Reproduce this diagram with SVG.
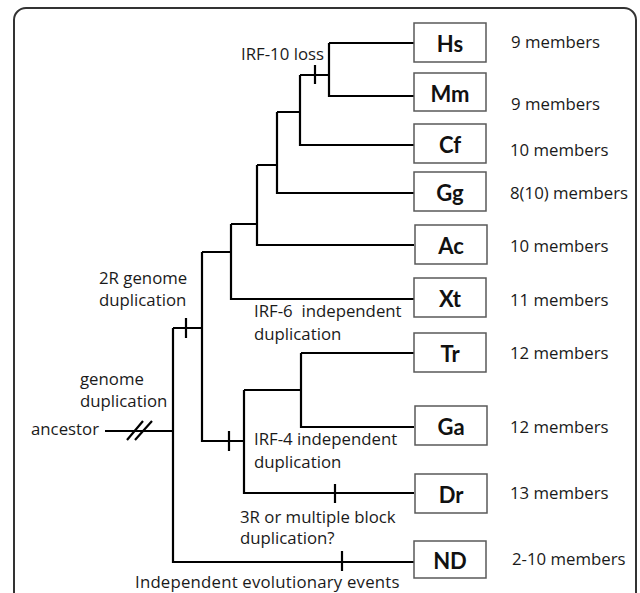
<svg xmlns="http://www.w3.org/2000/svg" width="640" height="593" viewBox="0 0 640 593">
<style>
.box{fill:#fff;stroke:#595959;stroke-width:1.5}
.bl{font-family:Lato,"Open Sans",sans-serif;font-weight:bold;font-size:22px;fill:#111;text-anchor:middle;dominant-baseline:central}
.t{font-family:"Open Sans",Lato,sans-serif;font-size:16.8px;fill:#1a1a1a;dominant-baseline:central}
.e{stroke:#000;stroke-width:2.2;fill:none}
</style>
<rect x="14" y="8" width="622" height="620" rx="12" fill="#fff" stroke="#333" stroke-width="2"/>
<g id="connectors">
<path class="e" d="M329,43 H414 M329,43 V96 H414 M300,75 H329 M315,65 V84 M300,75 V145 H414 M277,112 H300 M277,112 V193 H414 M257,165 H277 M257,165 V245 H414 M231,224 H257 M231,224 V299 H414 M202,252 H231 M202,252 V441 H244 M229,431 V451 M244,390 V493 H414 M335,484 V503 M244,390 H301 M301,353 H414 M301,353 V427 H414 M173,328 H202 M186,318 V338 M173,328 V562 H414 M342,551 V571 M105,431 H173 M127,440 L143,421 M135,440 L152,421"/>
</g>
<g id="Hs"><rect class="box" x="414" y="23" width="72" height="39"/><text class="bl" x="450" y="43">Hs</text></g>
<g id="Mm"><rect class="box" x="414" y="73" width="72" height="38"/><text class="bl" x="450" y="93">Mm</text></g>
<g id="Cf"><rect class="box" x="414" y="124" width="72" height="39"/><text class="bl" x="450" y="144">Cf</text></g>
<g id="Gg"><rect class="box" x="414" y="172" width="72" height="39"/><text class="bl" x="450" y="192">Gg</text></g>
<g id="Ac"><rect class="box" x="415" y="225" width="72" height="39"/><text class="bl" x="451" y="245">Ac</text></g>
<g id="Xt"><rect class="box" x="414" y="278" width="72" height="39"/><text class="bl" x="450" y="298">Xt</text></g>
<g id="Tr"><rect class="box" x="414" y="333" width="72" height="39"/><text class="bl" x="450" y="353">Tr</text></g>
<g id="Ga"><rect class="box" x="415" y="406" width="72" height="39"/><text class="bl" x="451" y="426">Ga</text></g>
<g id="Dr"><rect class="box" x="415" y="474" width="72" height="39"/><text class="bl" x="451" y="494">Dr</text></g>
<g id="ND"><rect class="box" x="414" y="541" width="72" height="37"/><text class="bl" x="450" y="560">ND</text></g>
<g id="counts">
<text class="t" x="511" y="41">9 members</text>
<text class="t" x="511" y="103">9 members</text>
<text class="t" x="510" y="149">10 members</text>
<text class="t" x="510" y="192">8(10) members</text>
<text class="t" x="510" y="245">10 members</text>
<text class="t" x="510" y="299">11 members</text>
<text class="t" x="510" y="352">12 members</text>
<text class="t" x="510" y="426">12 members</text>
<text class="t" x="510" y="492">13 members</text>
<text class="t" x="512" y="558">2-10 members</text>
</g>
<g id="events">
<text class="t" x="241" y="53">IRF-10 loss</text>
<text class="t" x="99" y="277">2R genome</text>
<text class="t" x="99" y="299">duplication</text>
<text class="t" x="254" y="310" xml:space="preserve">IRF-6  independent</text>
<text class="t" x="254" y="333">duplication</text>
<text class="t" x="80" y="378">genome</text>
<text class="t" x="80" y="400">duplication</text>
<text class="t" x="31" y="428">ancestor</text>
<text class="t" x="254" y="438">IRF-4 independent</text>
<text class="t" x="254" y="461">duplication</text>
<text class="t" x="240" y="516">3R or multiple block</text>
<text class="t" x="240" y="537">duplication?</text>
<text class="t" x="135" y="581" letter-spacing="0.2">Independent evolutionary events</text>
</g>
</svg>
